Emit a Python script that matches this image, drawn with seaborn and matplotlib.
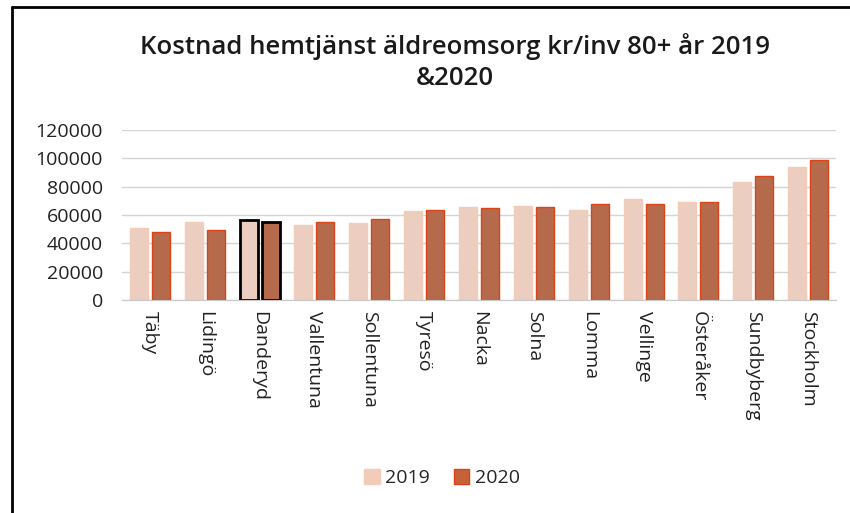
import matplotlib
matplotlib.use("Agg")
import matplotlib.pyplot as plt
import seaborn as sns
import pandas as pd
from matplotlib.patches import Patch
from matplotlib.lines import Line2D

kommuner = ["Täby", "Lidingö", "Danderyd", "Vallentuna", "Sollentuna", "Tyresö",
            "Nacka", "Solna", "Lomma", "Vellinge", "Österåker", "Sundbyberg", "Stockholm"]
kostnad_2019 = [50800, 55000, 56700, 52900, 54300, 62800, 65900, 66600, 63700, 71100, 68900, 82900, 94000]
kostnad_2020 = [47700, 49600, 55000, 55000, 57400, 63700, 64900, 65600, 68000, 68000, 69200, 87400, 98700]
years = ["2019", "2020"]
highlight = "Danderyd"

c2019 = "#f2cbb9"
c2020 = "#c6623a"
edge2020 = "#dc4418"

df = pd.DataFrame({
    "kommun": kommuner * 2,
    "year": [years[0]] * len(kommuner) + [years[1]] * len(kommuner),
    "kostnad": kostnad_2019 + kostnad_2020,
})

sns.set_style("white")
plt.rcParams["font.family"] = ["Open Sans", "DejaVu Sans"]

fig = plt.figure(figsize=(8.5, 5.13), dpi=100)
ax = fig.add_axes([0.144, 0.415, 0.839, 0.332])

sns.barplot(data=df, x="kommun", y="kostnad", hue="year", order=kommuner,
            hue_order=years, palette=[c2019, c2020], width=0.8, gap=0.18,
            legend=False, ax=ax)

# edges: 2019 light, 2020 red-orange, Danderyd outlined in black
for cont, ec in zip(ax.containers, [c2019, edge2020]):
    for name, bar in zip(kommuner, cont):
        if name == highlight:
            bar.set_edgecolor("black")
            bar.set_linewidth(2)
        else:
            bar.set_edgecolor(ec)
            bar.set_linewidth(1)

ax.set_ylim(0, 120000)
ax.set_yticks(range(0, 120001, 20000))
ax.yaxis.grid(True, color="#d4d4d4", linewidth=1)
ax.set_axisbelow(True)
for s in ["top", "right", "left"]:
    ax.spines[s].set_visible(False)
ax.spines["bottom"].set_color("#c8c8c8")
ax.set_xlabel("")
ax.set_ylabel("")
ax.tick_params(axis="y", labelsize=14, length=0, pad=14, colors="#222222")
ax.tick_params(axis="x", labelsize=14, length=0, pad=8, colors="#222222")
plt.setp(ax.get_xticklabels(), rotation=270, va="top", ha="center")

fig.suptitle("Kostnad hemtjänst äldreomsorg kr/inv 80+ år 2019\n&2020",
             x=0.535, y=0.935, fontsize=18.5, fontweight="semibold",
             linespacing=1.3, color="#1a1a1a")

handles = [Patch(facecolor=c2019, edgecolor=c2019),
           Patch(facecolor=c2020, edgecolor=edge2020)]
fig.legend(handles, years, loc="center", bbox_to_anchor=(0.52, 0.068), ncol=2,
           frameon=False, fontsize=14, handlelength=0.8, handleheight=0.8,
           handletextpad=0.3, columnspacing=1.2)

# scanned frame around the chart
fig.add_artist(Line2D([0.014, 0.014], [0.0, 0.986], transform=fig.transFigure,
                      color="black", linewidth=2))
fig.add_artist(Line2D([0.014, 1.0], [0.986, 0.986], transform=fig.transFigure,
                      color="black", linewidth=2))

fig.savefig("out.png", dpi=100)
